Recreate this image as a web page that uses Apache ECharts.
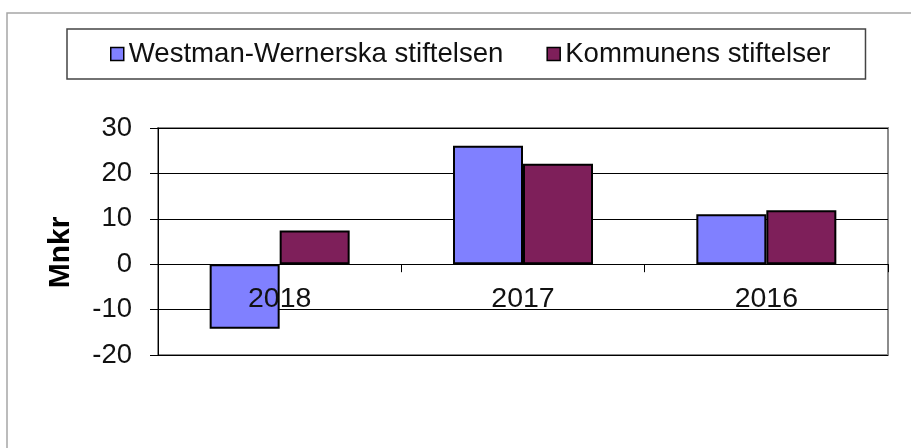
<!DOCTYPE html>
<html>
<head>
<meta charset="utf-8">
<script src="https://cdn.jsdelivr.net/npm/echarts@6/dist/echarts.min.js"></script>
<style>
  html, body { margin: 0; padding: 0; background: #fff; }
  #chart { width: 911px; height: 448px; }
</style>
</head>
<body>
<div id="chart"></div>
<script>
const years = ['2018', '2017', '2016']
const westman = [-14.2, 26.1, 11.0]
const kommunens = [7.4, 22.1, 11.9]
const seriesNames = ['Westman-Wernerska stiftelsen', 'Kommunens stiftelser']
const yMin = -20
const yMax = 30

const font = 'Liberation Sans, Arial, sans-serif'
const gridTop = 128
const gridBottom = 93
const chartH = 448
// the category axis sits on the zero line; labels hang under it
const plotH = chartH - gridTop - gridBottom
const zeroOffset = -plotH * (0 - yMin) / (yMax - yMin)

const myChart = echarts.init(document.getElementById('chart'))

myChart.setOption({
    backgroundColor: '#fff',
    animation: false,
    graphic: [
        {
            type: 'rect',
            shape: { x: 7, y: 13, width: 1000, height: 1000 },
            style: { fill: 'none', stroke: '#a6a6a6', lineWidth: 1.5 },
            z: -10
        }
    ],
    legend: {
        left: 67,
        top: 29,
        padding: [11, 35, 11, 43],
        itemGap: 43,
        itemWidth: 13,
        itemHeight: 13,
        icon: 'rect',
        borderColor: '#444',
        borderWidth: 1.5,
        data: seriesNames,
        itemStyle: { borderColor: '#000', borderWidth: 1.5 },
        textStyle: { color: '#111', fontSize: 27.6, fontFamily: font }
    },
    grid: {
        left: 158,
        right: 23,
        top: gridTop,
        bottom: gridBottom,
        show: true,
        borderColor: '#8c8c8c',
        borderWidth: 2
    },
    xAxis: {
        type: 'category',
        data: years,
        z: 5,
        offset: zeroOffset,
        axisLine: { onZero: false, lineStyle: { color: '#000', width: 1 } },
        axisTick: { show: true, length: 8, lineStyle: { color: '#000' } },
        axisLabel: { color: '#111', fontSize: 28.5, fontFamily: font, margin: 20 }
    },
    yAxis: {
        type: 'value',
        min: yMin,
        max: yMax,
        interval: 10,
        name: 'Mnkr',
        nameLocation: 'middle',
        nameRotate: 90,
        nameGap: 82,
        nameTextStyle: {
            color: '#000', fontSize: 30, fontWeight: 'bold', fontFamily: font,
            padding: [0, 22, 0, 0]
        },
        axisLine: { show: true, lineStyle: { color: '#000', width: 1 } },
        axisTick: { show: true, length: 8, lineStyle: { color: '#000' } },
        axisLabel: { color: '#111', fontSize: 27.5, fontFamily: font, margin: 26 },
        splitLine: { lineStyle: { color: '#000', width: 1 } }
    },
    series: [
        {
            name: seriesNames[0],
            type: 'bar',
            barWidth: 70,
            barGap: 0,
            data: westman,
            itemStyle: { color: '#8080ff', borderColor: '#000', borderWidth: 2 }
        },
        {
            name: seriesNames[1],
            type: 'bar',
            barWidth: 70,
            barGap: 0,
            data: kommunens,
            itemStyle: { color: '#7e1f5a', borderColor: '#000', borderWidth: 2 }
        }
    ]
})
</script>
</body>
</html>
